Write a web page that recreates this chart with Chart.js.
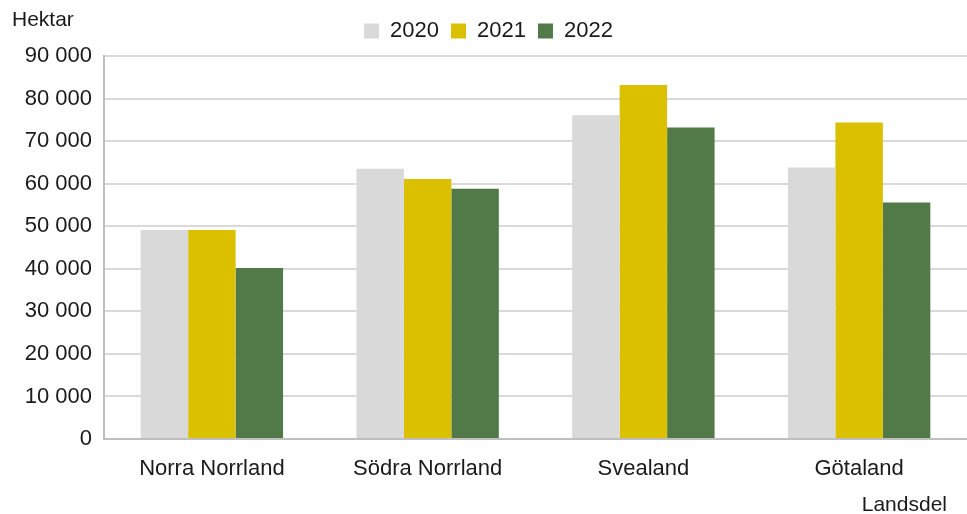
<!DOCTYPE html>
<html>
<head>
<meta charset="utf-8">
<script src="https://cdn.jsdelivr.net/npm/chart.js@4"></script>
<style>
  html, body { margin: 0; padding: 0; background: #fff; }
  #wrap { width: 967px; height: 514px; }
</style>
</head>
<body>
<div id="wrap"><canvas id="chart" width="967" height="514"></canvas></div>
<script>
// Data
const categories = ['Norra Norrland', 'Södra Norrland', 'Svealand', 'Götaland'];
const years = ['2020', '2021', '2022'];
const values2020 = [49100, 63500, 76100, 63800];
const values2021 = [49100, 61100, 83200, 74400];
const values2022 = [40200, 58800, 73200, 55600];
const yTicks = [0, 10000, 20000, 30000, 40000, 50000, 60000, 70000, 80000, 90000];

const colors = ['#d9d9d9', '#dbc000', '#527a48'];
const fontFamily = '"Liberation Sans", Arial, sans-serif';
const textColor = '#1a1a1a';

function formatThousands(v) {
    return String(v).replace(/\B(?=(\d{3})+(?!\d))/g, ' ');
}

// Unit label above the y axis and the category axis title below
const axisTexts = {
    id: 'axisTexts',
    afterInit(chart) {
        // give the legend a little extra room below it
        const legend = chart.legend;
        const fit = legend.fit;
        legend.fit = function() {
            fit.call(legend);
            legend.height += 4;
        };
    },
    afterDraw(chart) {
        const c = chart.ctx;
        const area = chart.chartArea;
        c.save();
        c.font = '21px ' + fontFamily;
        c.fillStyle = textColor;
        c.textBaseline = 'middle';
        c.textAlign = 'left';
        c.fillText('Hektar', 12, 20);
        c.textAlign = 'right';
        c.fillText('Landsdel', area.right - 20, 505);
        c.restore();
    }
};

const ctx = document.getElementById('chart').getContext('2d');
new Chart(ctx, {
    type: 'bar',
    data: {
        labels: categories,
        datasets: [
            { label: years[0], data: values2020, backgroundColor: colors[0] },
            { label: years[1], data: values2021, backgroundColor: colors[1] },
            { label: years[2], data: values2022, backgroundColor: colors[2] }
        ]
    },
    options: {
        responsive: false,
        animation: false,
        layout: { padding: { left: 10, right: 0, top: 8, bottom: 0 } },
        datasets: {
            bar: { categoryPercentage: 0.66, barPercentage: 1.0, borderWidth: 0 }
        },
        plugins: {
            legend: {
                position: 'top',
                labels: {
                    font: { family: fontFamily, size: 22 },
                    color: textColor,
                    boxWidth: 15,
                    boxHeight: 15,
                    padding: 12
                }
            },
            tooltip: { enabled: false }
        },
        scales: {
            x: {
                grid: { display: false, drawTicks: false },
                border: { color: '#bfbfbf', width: 2 },
                afterFit(axis) { axis.height = 75; },
                ticks: {
                    font: { family: fontFamily, size: 22 },
                    color: textColor,
                    padding: 17
                }
            },
            y: {
                min: 0,
                max: 90000,
                afterBuildTicks(axis) {
                    axis.ticks = yTicks.map(v => ({ value: v }));
                },
                afterFit(axis) { axis.width = 94; },
                grid: { color: '#d9d9d9', lineWidth: 2, drawTicks: false },
                border: { color: '#bfbfbf', width: 2 },
                ticks: {
                    font: { family: fontFamily, size: 22 },
                    color: textColor,
                    padding: 12,
                    callback: v => formatThousands(v)
                }
            }
        }
    },
    plugins: [axisTexts]
});
</script>
</body>
</html>
